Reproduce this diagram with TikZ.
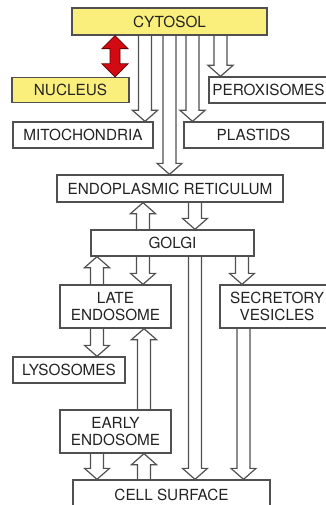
\documentclass[tikz,border=0pt]{standalone}
\usepackage{fontspec}
\setmainfont{TeX Gyre Heros}
\usetikzlibrary{calc}

\definecolor{boxgray}{RGB}{80,80,80}
\definecolor{textgray}{RGB}{35,35,35}
\definecolor{cytoyellow}{RGB}{250,239,125}
\definecolor{nucred}{RGB}{210,10,20}

\begin{document}
\begin{tikzpicture}[x=1pt, y=-1pt,
  comp/.style={rectangle, draw=boxgray, line width=1.3pt, text=textgray, inner sep=0pt,
    align=center, font=\fontsize{15.3}{17.5}\selectfont},
  yellowcomp/.style={comp, fill=cytoyellow},
  flow/.style={draw=boxgray, line width=1.2pt, line join=miter,
    to path={let \p1=(\tikztostart), \p2=(\tikztotarget), \n1={11*sign(\y1-\y2)} in
      ({\x1-6.5pt},\y1) -- ({\x1-6.5pt},{\y2+\n1}) -- ({\x1-12.5pt},{\y2+\n1}) -- (\x1,\y2)
      -- ({\x1+12.5pt},{\y2+\n1}) -- ({\x1+6.5pt},{\y2+\n1}) -- ({\x1+6.5pt},\y1)}},
  nucarrow/.style={draw=red!40!black, fill=nucred, line width=0.8pt, line join=miter,
    to path={let \p1=(\tikztostart), \p2=(\tikztotarget), \n1={13*sign(\y1-\y2)} in
      (\x1,\y1) -- ({\x1-13pt},{\y1-\n1}) -- ({\x1-5pt},{\y1-\n1}) -- ({\x1-5pt},{\y2+\n1})
      -- ({\x1-13pt},{\y2+\n1}) -- (\x1,\y2) -- ({\x1+13pt},{\y2+\n1}) -- ({\x1+5pt},{\y2+\n1})
      -- ({\x1+5pt},{\y1-\n1}) -- ({\x1+13pt},{\y1-\n1}) -- cycle}}
]
\useasboundingbox (0,0) rectangle (325,505);

% compartments
\node[yellowcomp, minimum width=195pt, minimum height=27pt] (cyto) at (169.5,21.5) {CYTOSOL};
\node[yellowcomp, minimum width=117pt, minimum height=25pt] (nucleus) at (70.5,90) {NUCLEUS};
\node[comp, minimum width=119pt, minimum height=26pt] (perox) at (268.5,90) {PEROXISOMES};
\node[comp, minimum width=140pt, minimum height=26pt] (mito) at (83,135) {MITOCHONDRIA};
\node[comp, minimum width=139pt, minimum height=26pt] (plastids) at (253.5,135) {PLASTIDS};
\node[comp, minimum width=226pt, minimum height=27pt] (er) at (170,188.5) {ENDOPLASMIC RETICULUM};
\node[comp, minimum width=163pt, minimum height=26pt] (golgi) at (172.5,243) {GOLGI};
\node[comp, minimum width=111pt, minimum height=43pt] (late) at (115.5,306.5) {LATE\\ENDOSOME};
\node[comp, minimum width=114pt, minimum height=43pt] (secretory) at (277,306.5) {SECRETORY\\VESICLES};
\node[comp, minimum width=112pt, minimum height=26pt] (lyso) at (69,370) {LYSOSOMES};
\node[comp, minimum width=111pt, minimum height=43pt] (early) at (115.5,431.5) {EARLY\\ENDOSOME};
\node[comp, minimum width=197pt, minimum height=30pt] (cell) at (171.5,495) {CELL SURFACE};

% nuclear pores
\draw[nucarrow] ([xshift=-54.5pt]cyto.south) to (nucleus.north);

% transport out of the cytosol
\draw[flow] ([xshift=-24.5pt]cyto.south) to (mito.north);
\draw[flow] (cyto.south) to (er.north);
\draw[flow] ([xshift=23pt]cyto.south) to (plastids.north);
\draw[flow] ([xshift=51pt]cyto.south) to (perox.north);

% secretory and endocytic routes
\draw[flow] ([xshift=25pt]er.south) to (golgi.north);
\draw[flow] ([xshift=-29.5pt]golgi.north) to (er.south);
\draw[flow] ([xshift=-29.5pt]golgi.south) to (late.north);
\draw[flow] ([xshift=-18.5pt]late.north) to (golgi.south);
\draw[flow] ([xshift=22.5pt]golgi.south) to (cell.north);
\draw[flow] ([xshift=69.5pt]golgi.south) to (secretory.north);
\draw[flow] ([xshift=-33.5pt]secretory.south) to (cell.north);
\draw[flow] ([xshift=-18.5pt]late.south) to (lyso.north);
\draw[flow] ([xshift=28.5pt]early.north) to (late.south);
\draw[flow] ([xshift=-18.5pt]early.south) to (cell.north);
\draw[flow] ([xshift=-27.5pt]cell.north) to (early.south);
\end{tikzpicture}
\end{document}
